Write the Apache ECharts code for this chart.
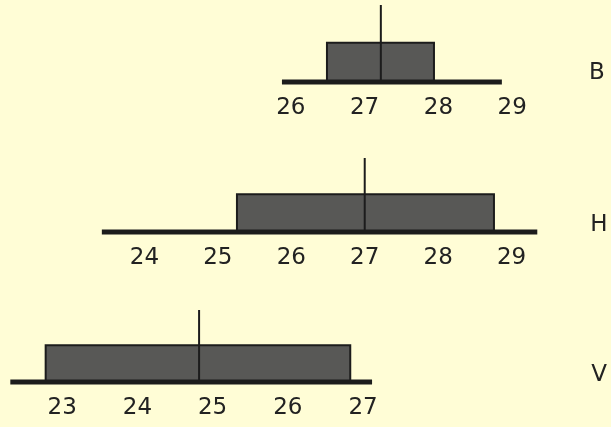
<!DOCTYPE html>
<html>
<head>
<meta charset="utf-8">
<script src="https://cdn.jsdelivr.net/npm/echarts@6/dist/echarts.min.js"></script>
<style>
html,body{margin:0;padding:0;background:#fffdd6;}
#c{width:611px;height:427px;}
</style>
</head>
<body>
<div id="c"></div>
<script>
// ---- data ----
const panelNames = ['B', 'H', 'V'];
const baseStart = [25.88, 23.42, 22.31];
const baseEnd   = [28.86, 29.35, 27.12];
const boxLow    = [26.49, 25.26, 22.78];
const boxHigh   = [27.94, 28.76, 26.83];
const meanValue = [27.22, 27.00, 24.82];
const tickLabels = [
  [26, 27, 28, 29],
  [24, 25, 26, 27, 28, 29],
  [23, 24, 25, 26, 27]
];
const axisMin = [25.5, 23, 22.2];
const axisMax = [29.5, 29.5, 27.5];

// ---- layout (pixels) ----
const grids = [
  {left: 253.9, width: 295.2, top: 5,   height: 77},
  {left: 71.0,  width: 477.3, top: 158, height: 74},
  {left: 2.04,  width: 398.6, top: 310, height: 72}
];
const letterPos = [[597, 73], [599, 225], [599, 375]];
const BOX_FRAC = 0.51;
const INK = '#1c1c1c';

const chart = echarts.init(document.getElementById('c'), null, {renderer: 'canvas'});

const option = {
  backgroundColor: '#fffdd6',
  animation: false,
  grid: grids.map(g => Object.assign({containLabel: false}, g)),
  xAxis: grids.map((g, i) => ({
    type: 'value', gridIndex: i, min: axisMin[i], max: axisMax[i],
    axisLine: {show: false}, axisTick: {show: false}, splitLine: {show: false},
    axisLabel: {
      customValues: tickLabels[i], showMinLabel: true, showMaxLabel: true,
      margin: 15, color: '#222', fontSize: 23, fontFamily: 'DejaVu Sans'
    }
  })),
  yAxis: grids.map((g, i) => ({
    type: 'value', gridIndex: i, min: 0, max: 1, show: false
  })),
  series: panelNames.map((name, i) => ({
    type: 'custom', xAxisIndex: i, yAxisIndex: i,
    data: [[boxLow[i], boxHigh[i], meanValue[i], baseStart[i], baseEnd[i]]],
    renderItem: function (params, api) {
      const lo = api.coord([api.value(0), 0]);
      const hi = api.coord([api.value(1), BOX_FRAC]);
      const mb = api.coord([api.value(2), 0]);
      const mt = api.coord([api.value(2), 1]);
      const bs = api.coord([api.value(3), 0]);
      const be = api.coord([api.value(4), 0]);
      return {
        type: 'group',
        children: [
          {type: 'rect', shape: {x: lo[0], y: hi[1], width: hi[0] - lo[0], height: lo[1] - hi[1]},
           style: {fill: '#585856', stroke: INK, lineWidth: 2}},
          {type: 'line', shape: {x1: mb[0], y1: mb[1], x2: mt[0], y2: mt[1]},
           style: {stroke: INK, lineWidth: 2}},
          {type: 'line', shape: {x1: bs[0], y1: bs[1], x2: be[0], y2: be[1]},
           style: {stroke: INK, lineWidth: 5}}
        ]
      };
    }
  })),
  graphic: panelNames.map((name, i) => ({
    type: 'text', x: letterPos[i][0], y: letterPos[i][1],
    style: {text: name, fill: '#222', fontSize: 23, fontFamily: 'DejaVu Sans',
            align: 'center', verticalAlign: 'middle'}
  }))
};
chart.setOption(option);
</script>
</body>
</html>
